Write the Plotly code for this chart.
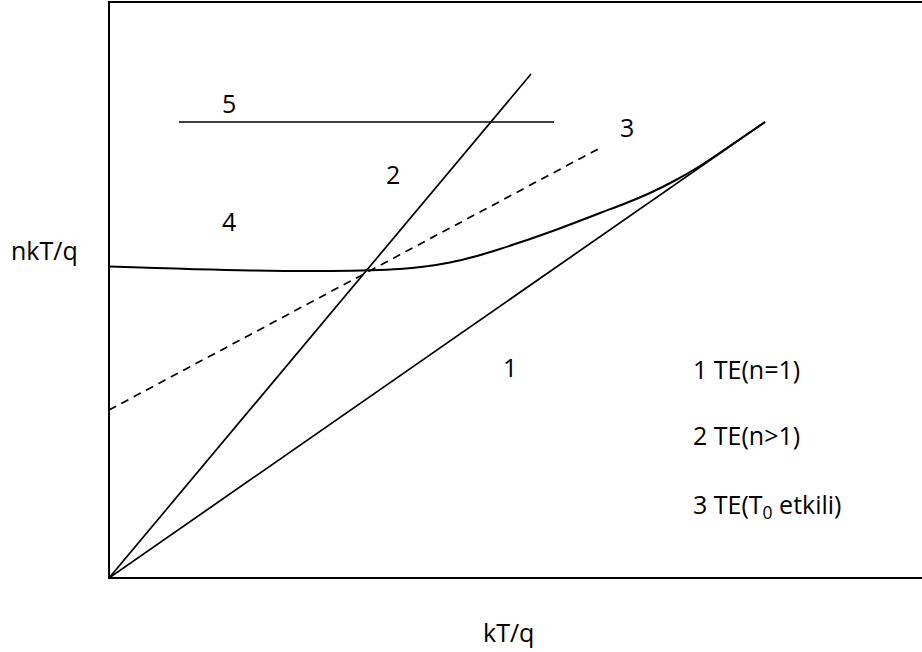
import plotly.graph_objects as go

# kT/q (x) vs nkT/q (y), arbitrary units with origin at the lower-left corner
line1_x = [0.0, 6.56]
line1_y = [0.0, 4.56]
line2_x = [0.0, 4.22]
line2_y = [0.0, 5.04]
line5_x = [0.70, 4.45]
line5_y = [4.56, 4.56]
dash3_x = [0.0, 4.89]
dash3_y = [1.68, 4.29]
curve4_x = [0.0, 1.41, 2.21, 2.91, 3.16, 3.41, 3.66, 3.91, 4.41, 4.91, 5.16, 5.41, 5.66, 5.91, 6.31, 6.56]
curve4_y = [3.115, 3.075, 3.07, 3.09, 3.115, 3.155, 3.215, 3.29, 3.46, 3.65, 3.745, 3.85, 3.975, 4.12, 4.39, 4.56]

region_labels = ["5", "2", "3", "4", "1"]
region_x = [1.20, 2.84, 5.18, 1.20, 4.01]
region_y = [4.75, 4.04, 4.51, 3.57, 2.11]

legend_texts = ["1 TE(n=1)", "2 TE(n>1)", "3 TE(T<sub>0</sub> etkili)"]
legend_x = [5.82, 5.82, 5.82]
legend_y = [2.09, 1.43, 0.73]

FONT = "Open Sans, Noto Sans, sans-serif"
FS = 25

fig = go.Figure()
solid = dict(color="black", width=1.7)
for xs, ys in [(line1_x, line1_y), (line2_x, line2_y), (line5_x, line5_y)]:
    fig.add_trace(go.Scatter(x=xs, y=ys, mode="lines", line=solid, hoverinfo="skip"))
fig.add_trace(go.Scatter(x=dash3_x, y=dash3_y, mode="lines",
                         line=dict(color="black", width=1.7, dash="8px,6px"), hoverinfo="skip"))
fig.add_trace(go.Scatter(x=curve4_x, y=curve4_y, mode="lines",
                         line=dict(color="black", width=2, shape="spline", smoothing=1.0,
                                   simplify=False),
                         hoverinfo="skip"))

for t, x, y in zip(region_labels, region_x, region_y):
    fig.add_annotation(x=x, y=y, text=t, showarrow=False,
                       font=dict(family=FONT, size=FS, color="black"))
for t, x, y in zip(legend_texts, legend_x, legend_y):
    fig.add_annotation(x=x, y=y, text=t, showarrow=False, xanchor="left",
                       font=dict(family=FONT, size=FS, color="black"))

fig.add_annotation(xref="paper", yref="paper", x=-0.0793, y=0.569, text="nkT/q",
                   xanchor="center", yanchor="middle",
                   showarrow=False, font=dict(family=FONT, size=FS, color="black"))
fig.add_annotation(xref="paper", yref="paper", x=0.491, y=-0.094, text="kT/q",
                   xanchor="center", yanchor="middle",
                   showarrow=False, font=dict(family=FONT, size=FS, color="black"))

# frame (right edge lies beyond the visible page)
fig.add_shape(type="rect", xref="paper", yref="paper", x0=0, x1=1.05, y0=0, y1=1,
              line=dict(color="black", width=2))

fig.update_xaxes(range=[0, 8.13], visible=False, fixedrange=True)
fig.update_yaxes(range=[0, 5.76], visible=False, fixedrange=True)
fig.update_layout(width=922, height=652, showlegend=False,
                  margin=dict(l=109, r=0, t=2, b=74, pad=0),
                  plot_bgcolor="white", paper_bgcolor="white")

fig.write_html("out.html", config={"displayModeBar": False},
               post_script="document.body.style.margin='0';")
